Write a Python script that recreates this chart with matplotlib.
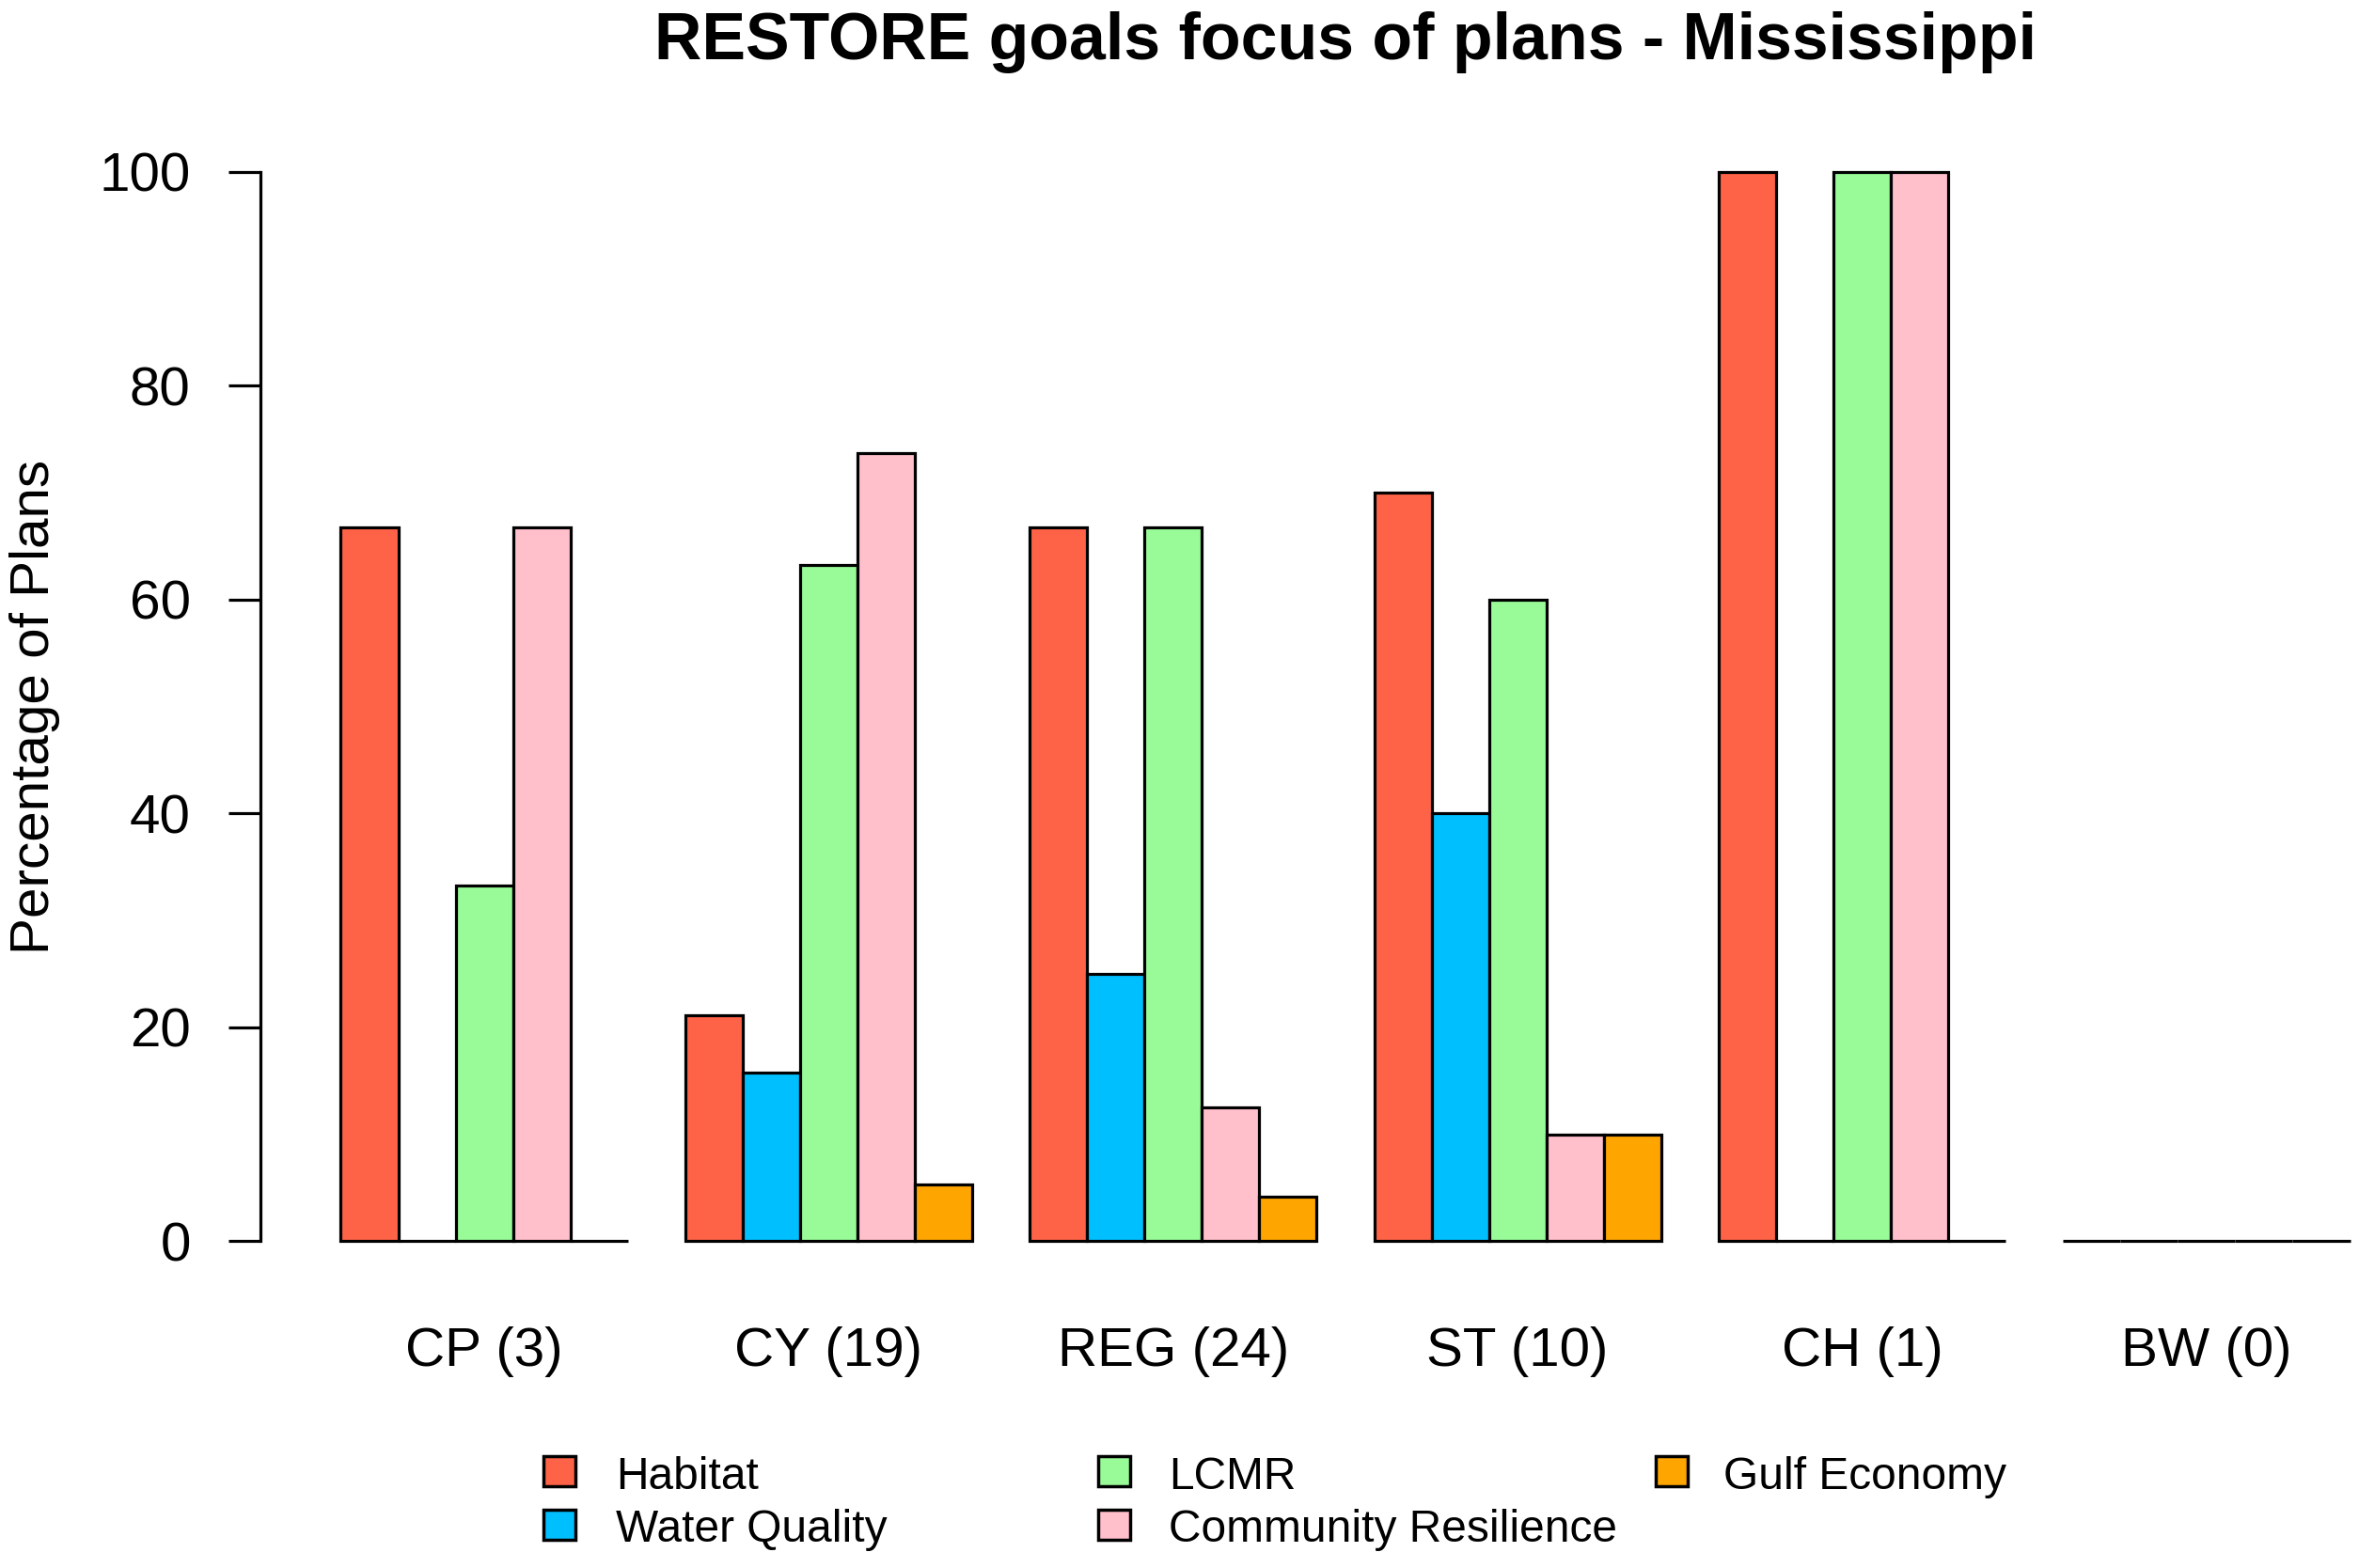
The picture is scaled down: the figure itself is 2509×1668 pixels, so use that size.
import matplotlib
matplotlib.use("Agg")
import matplotlib.pyplot as plt
import matplotlib.transforms as mtransforms
from matplotlib.patches import Rectangle

plt.rcParams['font.family'] = ['Liberation Sans', 'DejaVu Sans']

# plan types, with number of plans in brackets
plan_types = ["CP (3)", "CY (19)", "REG (24)", "ST (10)", "CH (1)", "BW (0)"]
goals = ["Habitat", "Water Quality", "LCMR", "Community Resilience", "Gulf Economy"]
goal_colors = ["#FF6347", "#00BFFF", "#98FB98", "#FFC0CB", "#FFA500"]

# percentage of plans for each goal, one list per plan type
cp_values = [66.7, 0, 33.3, 66.7, 0]
cy_values = [21.1, 15.8, 63.2, 73.7, 5.3]
reg_values = [66.7, 25.0, 66.7, 12.5, 4.2]
st_values = [70.0, 40.0, 60.0, 10.0, 10.0]
ch_values = [100.0, 0, 100.0, 100.0, 0]
bw_values = [0, 0, 0, 0, 0]
all_values = [cp_values, cy_values, reg_values, st_values, ch_values, bw_values]

W, H = 2509, 1668
fig = plt.figure(figsize=(W / 100, H / 100), dpi=100)

# axes placed like the R plot region (it runs a bit off the right edge)
ax = fig.add_axes([277 / W, 1 - 1366 / H, 2308 / W, 1229 / H])
ax.set_xlim(-0.4, 37.4)
ax.set_ylim(-4, 104)

# grouped bars, one bar width gap before each group
for g in range(len(plan_types)):
    for j in range(len(goals)):
        ax.bar(1 + g * 6 + j, all_values[g][j], width=1, align='edge',
               color=goal_colors[j], edgecolor='black', linewidth=2.3)

for side in ['top', 'right', 'bottom']:
    ax.spines[side].set_visible(False)
ax.spines['left'].set_bounds(0, 100)
ax.spines['left'].set_linewidth(2.3)
ax.set_yticks([0, 20, 40, 60, 80, 100])
ax.tick_params(axis='y', length=24.5, width=2.3, pad=29, labelsize=42)
ax.set_xticks([])

# group labels under the bars
trans = mtransforms.blended_transform_factory(ax.transData, fig.transFigure)
for g in range(len(plan_types)):
    ax.text(1 + g * 6 + 2.5, 1 - 1438 / H, plan_types[g], transform=trans,
            ha='center', va='center', fontsize=42)

ax.text(18.5, 1 - 45 / H, "RESTORE goals focus of plans - Mississippi",
        transform=trans, ha='center', va='center', fontsize=50.3,
        fontweight='bold')
fig.text(37 / W, 1 - 752 / H, "Percentage of Plans", rotation=90,
         ha='center', va='center', fontsize=42)

# legend drawn by hand, filled column by column like R
box_x = [578, 1168, 1761]
text_x = [655, 1243, 1833]
row_y = [1565, 1622]
for k in range(len(goals)):
    col = k // 2
    row = k % 2
    fig.patches.append(Rectangle(((box_x[col]) / W, 1 - (row_y[row] + 16) / H),
                                 34 / W, 32 / H, transform=fig.transFigure,
                                 facecolor=goal_colors[k], edgecolor='black',
                                 linewidth=2.5))
    fig.text(text_x[col] / W, 1 - (row_y[row] + 6) / H, goals[k],
             ha='left', va='center', fontsize=34.5)

fig.savefig("out.png", dpi=100)
